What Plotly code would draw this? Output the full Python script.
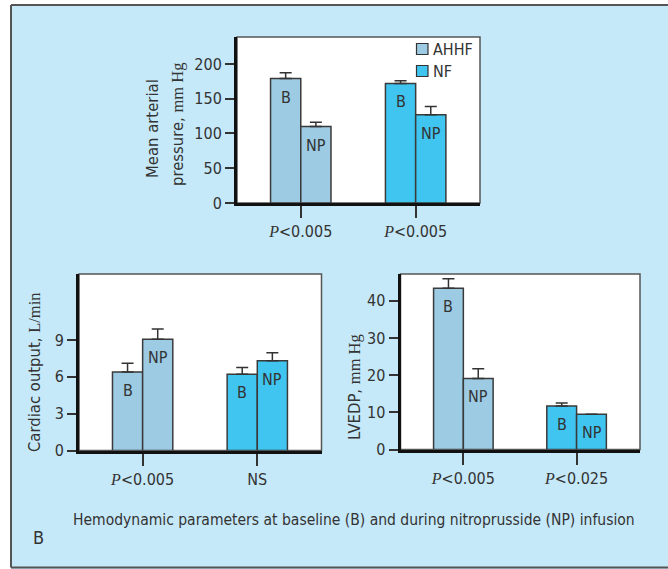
import plotly.graph_objects as go

W, H = 668, 569

# ---- data -------------------------------------------------------------
groups = ["AHHF", "NF"]
phases = ["B", "NP"]
group_colors = ["#9ccbe3", "#3fc5f0"]

# Mean arterial pressure, mm Hg
map_b = [179, 172]
map_np = [110, 127]
map_b_err = [8.5, 4]
map_np_err = [6, 12]
map_ticks = ["P<0.005", "P<0.005"]

# Cardiac output, L/min
co_b = [6.4, 6.2]
co_np = [9.05, 7.3]
co_b_err = [0.7, 0.55]
co_np_err = [0.85, 0.65]
co_ticks = ["P<0.005", "NS"]

# LVEDP, mm Hg
lv_b = [43.4, 11.7]
lv_np = [19.1, 9.5]
lv_b_err = [2.5, 0.8]
lv_np_err = [2.6, 0]
lv_ticks = ["P<0.005", "P<0.025"]

SANS = "Liberation Sans Narrow, DejaVu Sans Condensed, Arial Narrow, sans-serif"
SERIF = "Liberation Serif"
TXT = "#333333"
BG = "#c6e9f9"
BAR_PX = 30  # drawn width of one bar in pixels (used to offset in-bar labels)


def fx(px):
    return px / W


def fy(py):
    return 1 - py / H


def tick_label(s):
    # italic serif "P", rest in the sans face
    if s.startswith("P<"):
        return ('<span style="font-family:%s;font-style:italic">P</span>&lt;%s'
                % (SERIF, s[2:]))
    return s


fig = go.Figure()

panels = [
    ("x", "y", map_b, map_np, map_b_err, map_np_err),
    ("x2", "y2", co_b, co_np, co_b_err, co_np_err),
    ("x3", "y3", lv_b, lv_np, lv_b_err, lv_np_err),
]

annotations = []
for xa, ya, vb, vnp, eb, enp in panels:
    for k, (ph, vals, errs) in enumerate(((phases[0], vb, eb), (phases[1], vnp, enp))):
        fig.add_trace(go.Bar(
            x=list(range(len(groups))), y=vals,
            xaxis=xa, yaxis=ya, offsetgroup=ph, name=ph,
            marker=dict(color=group_colors, line=dict(color="#3a3a3a", width=1.5)),
            error_y=dict(type="data", symmetric=False, array=errs,
                         arrayminus=[0] * len(errs), color="#333333",
                         thickness=1.5, width=6),
            showlegend=False, hoverinfo="skip",
        ))
        # phase label just inside the top of each bar
        for i, v in enumerate(vals):
            annotations.append(dict(
                text=ph, xref=xa, yref=ya, x=i, y=v,
                xshift=(k - 0.5) * BAR_PX, yshift=-7,
                xanchor="center", yanchor="top", showarrow=False,
                font=dict(family=SANS, size=16, color=TXT)))

common_x = dict(range=[-0.555, 1.56], tickvals=[0, 1], ticks="outside", ticklen=12,
                tickwidth=1.5, tickcolor="#333333", showline=True, linewidth=3,
                linecolor="#111111", showgrid=False, zeroline=False, automargin=False,
                tickfont=dict(family=SANS, size=16, color=TXT), fixedrange=True)
common_y = dict(ticks="outside", ticklen=9, tickwidth=1.5, tickcolor="#333333",
                showline=True, linewidth=3, linecolor="#111111", showgrid=False,
                zeroline=False, automargin=False,
                tickfont=dict(family=SANS, size=16, color=TXT), fixedrange=True)

fig.update_layout(
    width=W, height=H,
    margin=dict(l=0, r=0, t=0, b=0, autoexpand=False),
    paper_bgcolor=BG, plot_bgcolor="white",
    barmode="group", bargap=0.474, bargroupgap=0,
    showlegend=False,
    xaxis=dict(domain=[fx(237), fx(480)], anchor="y",
               ticktext=[tick_label(t) for t in map_ticks], **common_x),
    yaxis=dict(domain=[fy(203), fy(37)], anchor="x", range=[0, 238.8],
               tickvals=[0, 50, 100, 150, 200], **common_y),
    xaxis2=dict(domain=[fx(79), fx(321.5)], anchor="y2",
                ticktext=[tick_label(t) for t in co_ticks], **common_x),
    yaxis2=dict(domain=[fy(450.5), fy(274)], anchor="x2", range=[0, 14.37],
                tickvals=[0, 3, 6, 9], **common_y),
    xaxis3=dict(domain=[fx(400.5), fx(640)], anchor="y3",
                ticktext=[tick_label(t) for t in lv_ticks], **common_x),
    yaxis3=dict(domain=[fy(449.5), fy(274)], anchor="x3", range=[0, 47.2],
                tickvals=[0, 10, 20, 30, 40], **common_y),
)

shapes = []
# white margin outside the framed panel, then the frame lines
shapes.append(dict(type="rect", xref="paper", yref="paper", x0=0, x1=fx(11),
                   y0=0, y1=1, fillcolor="white", line=dict(width=0), layer="below"))
shapes.append(dict(type="rect", xref="paper", yref="paper", x0=0, x1=1,
                   y0=fy(5), y1=1, fillcolor="white", line=dict(width=0), layer="below"))
shapes.append(dict(type="line", xref="paper", yref="paper", x0=fx(11), x1=1,
                   y0=fy(5), y1=fy(5), line=dict(color="#555555", width=2)))
shapes.append(dict(type="line", xref="paper", yref="paper", x0=fx(11), x1=fx(11),
                   y0=fy(567.5), y1=fy(5), line=dict(color="#555555", width=2)))
shapes.append(dict(type="line", xref="paper", yref="paper", x0=fx(11), x1=1,
                   y0=fy(567.5), y1=fy(567.5), line=dict(color="#555555", width=2)))
# thin top/right border of each plot area
for xa, ya in (("x", "y"), ("x2", "y2"), ("x3", "y3")):
    shapes.append(dict(type="rect", xref=xa + " domain", yref=ya + " domain",
                       x0=0, x1=1, y0=0, y1=1, line=dict(color="#555555", width=1.5),
                       fillcolor="rgba(0,0,0,0)", layer="below"))

# legend swatches
legend_rows = [49, 71]
for name, col, ry in zip(groups, group_colors, legend_rows):
    shapes.append(dict(type="rect", xref="paper", yref="paper",
                       x0=fx(416.5), x1=fx(428), y0=fy(ry + 5.5), y1=fy(ry - 5.5),
                       fillcolor=col, line=dict(color="#333333", width=1.2)))
    annotations.append(dict(text=name, xref="paper", yref="paper", x=fx(431),
                            y=fy(ry), xanchor="left", yanchor="middle", showarrow=False,
                            font=dict(family=SANS, size=16, color=TXT)))

serif = lambda s: '<span style="font-family:%s">%s</span>' % (SERIF, s)
axis_titles = [
    ("Mean arterial", 152, 129),
    ("pressure, " + serif("mm Hg"), 178, 125),
    ("Cardiac output, " + serif("L/min"), 35, 372),
    ("LVEDP, " + serif("mm Hg"), 354, 387),
]
for t, px, py in axis_titles:
    annotations.append(dict(text=t, xref="paper", yref="paper", x=fx(px), y=fy(py),
                            xanchor="center", yanchor="middle", textangle=-90,
                            showarrow=False, font=dict(family=SANS, size=16.5, color=TXT)))

annotations.append(dict(
    text="Hemodynamic parameters at baseline (B) and during nitroprusside (NP) infusion",
    xref="paper", yref="paper", x=fx(354), y=fy(520), xanchor="center",
    yanchor="middle", showarrow=False, font=dict(family=SANS, size=15.5, color=TXT)))
annotations.append(dict(text="B", xref="paper", yref="paper", x=fx(38), y=fy(537),
                        xanchor="center", yanchor="middle", showarrow=False,
                        font=dict(family=SANS, size=18, color=TXT)))

fig.update_layout(shapes=shapes, annotations=annotations)

fig.write_html("out.html")
